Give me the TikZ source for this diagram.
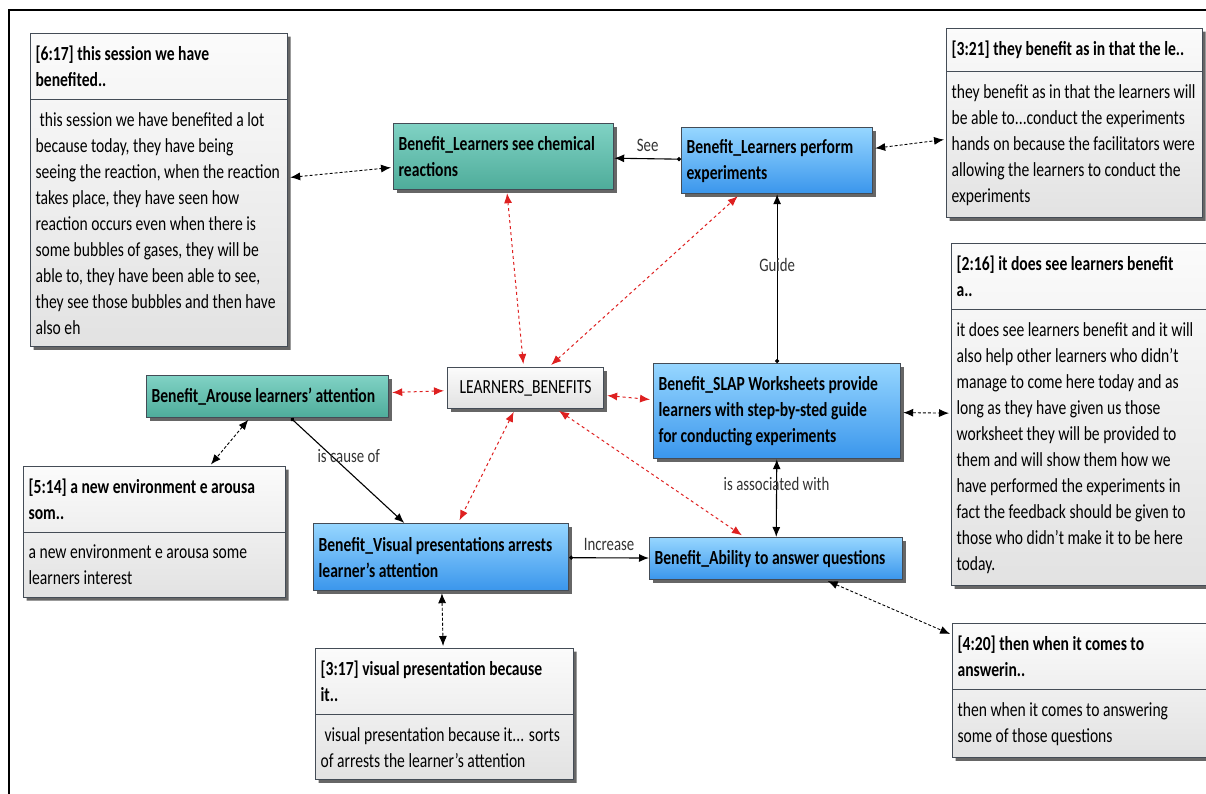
\documentclass[tikz,border=0pt]{standalone}
\usepackage{fontspec}
\setmainfont{Carlito}[FakeStretch=0.78]
\usetikzlibrary{arrows.meta,shapes.multipart,shadows}

\definecolor{tealtop}{RGB}{128,210,196}
\definecolor{tealbot}{RGB}{78,172,154}
\definecolor{bluetop}{RGB}{150,214,255}
\definecolor{bluebot}{RGB}{58,150,236}
\definecolor{greytop}{RGB}{251,251,251}
\definecolor{greybot}{RGB}{226,226,226}
\definecolor{boxline}{RGB}{68,76,86}
\definecolor{linkred}{RGB}{222,32,32}

\newcommand\notefont{\fontsize{20}{26}\selectfont}
\newcommand\lblfont{\fontsize{19}{22}\selectfont}

\tikzset{
  box/.style={draw=boxline, line width=1.2pt, anchor=north west, inner xsep=5pt, inner ysep=4pt,
    drop shadow={shadow xshift=3pt, shadow yshift=-3pt, fill=black!60, opacity=1}},
  codebox/.style={box, align=flush left, font=\notefont\bfseries, top color=tealtop, bottom color=tealbot},
  bluebox/.style={box, align=flush left, font=\notefont\bfseries, top color=bluetop, bottom color=bluebot},
  netbox/.style={box, align=flush center, font=\notefont, top color=greytop, bottom color=greybot},
  quotebox/.style={box, rectangle split, rectangle split parts=2, align=flush left, font=\notefont,
    top color=greytop, bottom color=greybot, inner ysep=12pt},
  note/.style={densely dashed, line width=0.9pt, {Latex[length=10pt,width=8pt]}-{Latex[length=10pt,width=8pt]},
    shorten <=2pt, shorten >=2pt},
  benefit/.style={linkred, dashed, line width=1pt, {Latex[length=10pt,width=8pt]}-{Latex[length=10pt,width=8pt]},
    shorten <=3pt, shorten >=3pt},
  rel/.style={line width=1.1pt, {Circle[length=4pt]}-{Latex[length=10pt,width=8pt]}},
  both/.style={line width=1.1pt, {Latex[length=10pt,width=8pt]}-{Latex[length=10pt,width=8pt]}},
  lbl/.style={font=\lblfont, text=black!80}
}

\begin{document}
\begin{tikzpicture}[x=1pt, y=-1pt]
\useasboundingbox (0,0) rectangle (1206,794);
\draw[line width=2.4pt] (9,794) -- (9,10) -- (1206,10);

% codes
\node[codebox, text width=210pt, minimum height=66pt] (seechem) at (393,123) {Benefit\_Learners see chemical\\reactions};
\node[bluebox, text width=181pt, minimum height=66pt] (perform) at (681,127) {Benefit\_Learners perform\\experiments};
\node[codebox, text width=232pt, minimum height=42pt] (arouse) at (146,375) {Benefit\_Arouse learners' attention};
\node[netbox, text width=146pt, minimum height=41pt] (lb) at (447,367) {LEARNERS\_BENEFITS};
\node[bluebox, text width=237pt, minimum height=95pt] (slap) at (653,363) {Benefit\_SLAP Worksheets provide\\learners with step-by-sted guide\\for conducting experiments};
\node[bluebox, text width=245pt, minimum height=67pt] (visual) at (313,523) {Benefit\_Visual presentations arrests\\learner's attention};
\node[bluebox, text width=243pt, minimum height=42pt] (ability) at (649,537) {Benefit\_Ability to answer questions};

% quotations
\node[quotebox, text width=247pt] (q617) at (30,33) {\bfseries [6:17] this session we have\\benefited..
  \nodepart{two}\hspace*{4pt}this session we have benefited a lot\\because today, they have being\\seeing the reaction, when the reaction\\takes place, they have seen how\\reaction occurs even when there is\\some bubbles of gases, they will be\\able to, they have been able to see,\\they see those bubbles and then have\\also eh};
\node[quotebox, text width=246pt] (q321) at (946,28) {\bfseries [3:21] they benefit as in that the le..
  \nodepart{two}they benefit as in that the learners will\\be able to...conduct the experiments\\hands on because the facilitators were\\allowing the learners to conduct the\\experiments};
\node[quotebox, text width=247pt] (q216) at (951,243) {\bfseries [2:16] it does see learners benefit\\a..
  \nodepart{two}it does see learners benefit and it will\\also help other learners who didn't\\manage to come here today and as\\long as they have given us those\\worksheet they will be provided to\\them and will show them how we\\have performed the experiments in\\fact the feedback should be given to\\those who didn't make it to be here\\today.};
\node[quotebox, text width=252pt] (q514) at (23,466) {\bfseries [5:14] a new environment e arousa\\som..
  \nodepart{two}a new environment e arousa some\\learners interest};
\node[quotebox, text width=248pt] (q317) at (315,648) {\bfseries [3:17] visual presentation because\\it..
  \nodepart{two}\hspace*{4pt}visual presentation because it... sorts\\of arrests the learner's attention};
\node[quotebox, text width=248pt] (q420) at (952,623) {\bfseries [4:20] then when it comes to\\answerin..
  \nodepart{two}then when it comes to answering\\some of those questions};

% links
\draw[note] (q617) -- (seechem);
\draw[rel] (perform) -- node[lbl, above=3pt] {See} (seechem);
\draw[note] (perform) -- (q321);
\draw[rel] (slap) -- node[lbl, pos=0.58] {Guide} (perform);
\draw[note] (slap) -- (q216);
\draw[benefit] (lb) -- (seechem);
\draw[benefit] (lb) -- (perform);
\draw[benefit] (lb) -- (arouse);
\draw[benefit] (lb) -- (slap);
\draw[benefit] (lb) -- (visual);
\draw[benefit] (lb) -- (ability);
\draw[note] (arouse) -- (q514);
\draw[rel] (arouse) -- node[lbl, pos=0.36, xshift=17pt] {is cause of} (visual);
\draw[both] (slap) -- node[lbl, pos=0.32] {is associated with} (ability);
\draw[rel] (visual) -- node[lbl, above=3pt] {Increase} (ability);
\draw[note] (visual) -- (q317);
\draw[note] (ability) -- (q420);
\end{tikzpicture}
\end{document}
